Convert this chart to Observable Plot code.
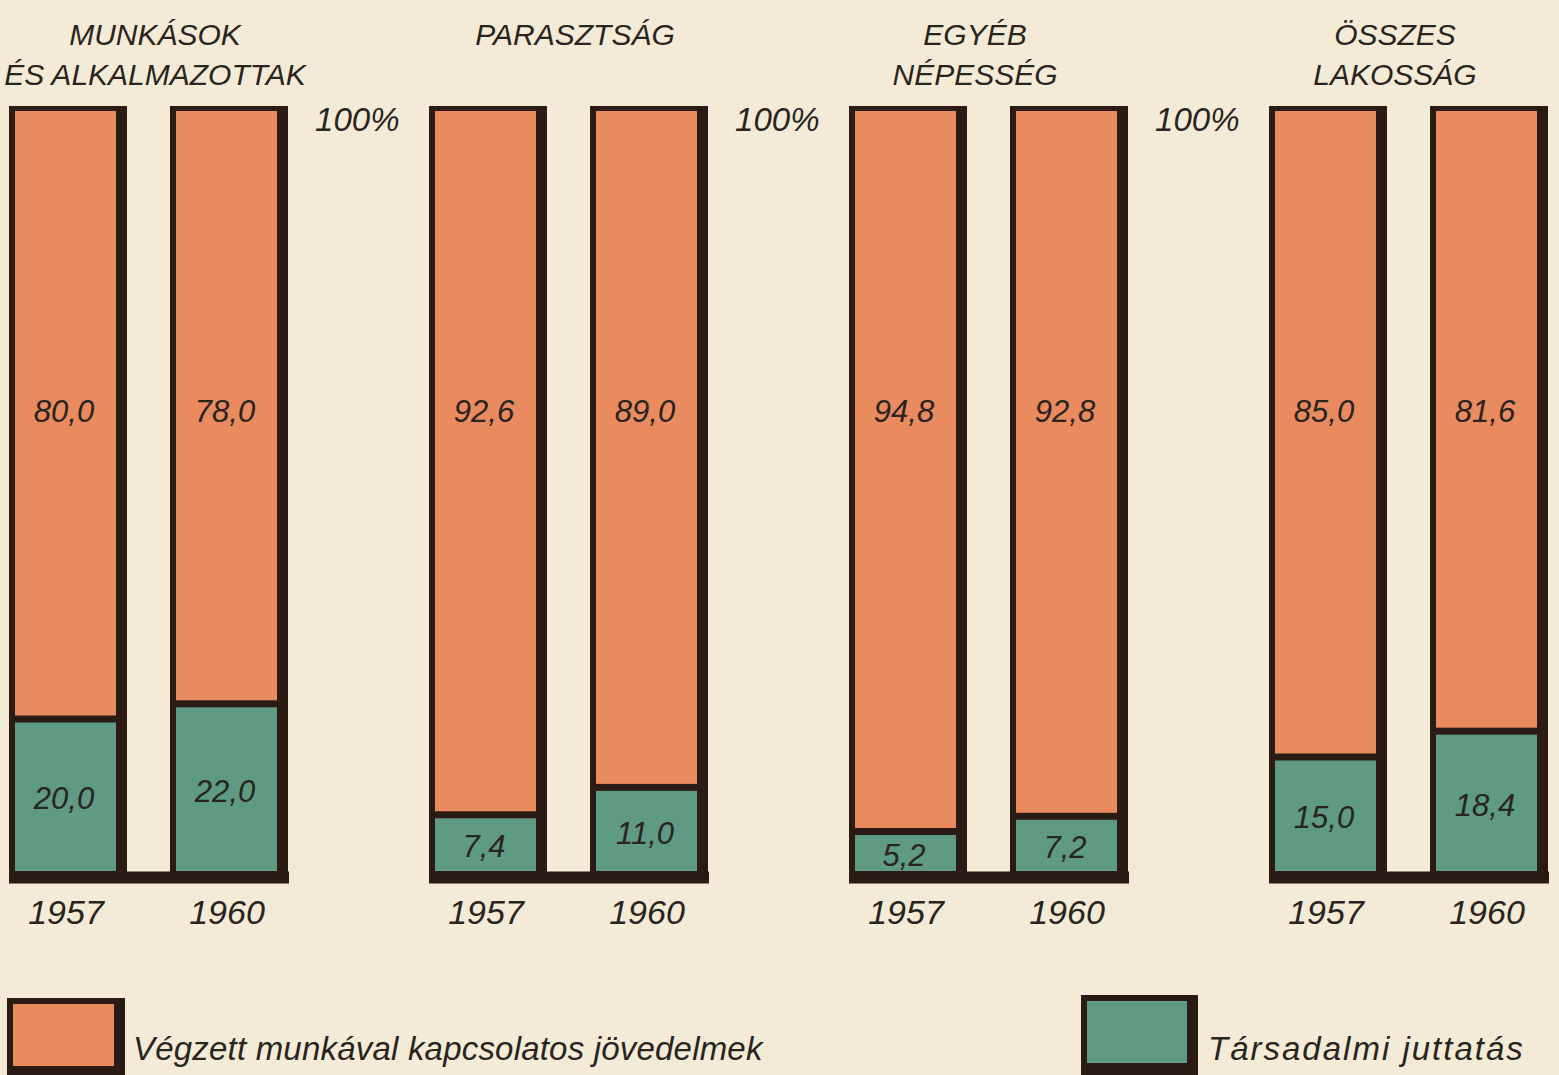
<!DOCTYPE html>
<html><head><meta charset="utf-8">
<script src="https://cdn.jsdelivr.net/npm/d3@7"></script>
<script src="https://cdn.jsdelivr.net/npm/@observablehq/plot@0.6"></script>
<style>
body{margin:0;background:#f3ebd5;width:1559px;height:1075px;overflow:hidden;font-family:"Liberation Sans",Arial,sans-serif;font-style:italic;color:#2a241f}
#chart svg{display:block;background:transparent}
#legend{position:relative;height:115px}
.box{position:absolute;box-sizing:border-box;border:solid #2a1c15;border-width:6px 11px 12px 6px}
.lt{position:absolute;font-size:33px;line-height:33px;white-space:nowrap}
</style></head>
<body>
<div id="chart"></div>
<div id="legend"></div>
<script>
const groups = ["MUNKÁSOK\nÉS ALKALMAZOTTAK", "PARASZTSÁG", "EGYÉB\nNÉPESSÉG", "ÖSSZES\nLAKOSSÁG"];
const years = ["1957", "1960"];
const workIncome = [80.0, 78.0, 92.6, 89.0, 94.8, 92.8, 85.0, 81.6];
const socialBenefit = [20.0, 22.0, 7.4, 11.0, 5.2, 7.2, 15.0, 18.4];
const seriesNames = ["Végzett munkával kapcsolatos jövedelmek", "Társadalmi juttatás"];
const topLabel = "100%";

const ORANGE = "#e98a5f", TEAL = "#5f9a83", DARK = "#2a1c15", INK = "#2a241f";
const rows = [];
groups.forEach((g, i) => years.forEach((y, j) => {
  rows.push({group: g, year: y, work: workIncome[i * 2 + j], social: socialBenefit[i * 2 + j]});
}));
const fmt = v => d3.format(".1f")(v).replace(".", ",");
const font = '"Liberation Sans", Arial, sans-serif';
const titleOpts = {fx: d => d, text: d => d, frameAnchor: "top", lineAnchor: "top", dy: -95, fontSize: 30, lineHeight: 1.33, fill: INK};

const plot = Plot.plot({
  width: 1559, height: 960,
  marginLeft: 13, marginRight: 20, marginTop: 111, marginBottom: 89,
  style: {fontFamily: font, fontStyle: "italic", background: "transparent", color: INK},
  fx: {domain: groups, paddingInner: 0.375, paddingOuter: 0, axis: null, label: null},
  x: {domain: years, paddingInner: 0.37, paddingOuter: 0, label: null, axis: null},
  y: {domain: [0, 100], axis: null},
  marks: [
    Plot.barY(rows, {fx: "group", x: "year", y1: 0, y2: 100, fill: DARK,
      insetLeft: -6, insetRight: -11, insetTop: -5, insetBottom: -12}),
    Plot.ruleY(groups, {fx: d => d, y: () => 0, stroke: DARK, strokeWidth: 12, dy: 6, insetLeft: -6, insetRight: -11}),
    Plot.barY(rows, {fx: "group", x: "year", y1: 0, y2: "social", fill: TEAL, insetTop: 3.5}),
    Plot.barY(rows, {fx: "group", x: "year", y1: "social", y2: 100, fill: ORANGE, insetBottom: 3.5}),
    Plot.text(rows, {fx: "group", x: "year", y: () => 60.5, dx: -2, text: d => fmt(d.work), fontSize: 31, fill: INK}),
    Plot.text(rows, {fx: "group", x: "year", y: d => d.social / 2, dy: 4, dx: -2, text: d => fmt(d.social), fontSize: 31, fill: INK}),
    Plot.axisX({tickSize: 0, tickPadding: 28, fontSize: 34, label: null, fill: INK}),
    Plot.text(groups.slice(0, 2), {...titleOpts, dx: 8}),
    Plot.text(groups.slice(2), {...titleOpts, dx: -12}),
    Plot.text(groups.slice(1), {fx: d => d, text: () => topLabel, frameAnchor: "top-left", textAnchor: "end", lineAnchor: "middle", dx: -36, dy: 9, fontSize: 33, fill: INK})
  ]
});
document.getElementById("chart").appendChild(plot);

const legend = document.getElementById("legend");
const items = [
  {color: ORANGE, box: [7, 38, 118, 80], text: [133, 72], spacing: "0.2px"},
  {color: TEAL, box: [1081, 35, 117, 80], text: [1208, 72], spacing: "2px"}
];
items.forEach((it, i) => {
  const b = document.createElement("div");
  b.className = "box";
  Object.assign(b.style, {left: it.box[0] + "px", top: it.box[1] + "px", width: it.box[2] + "px", height: it.box[3] + "px", background: it.color});
  legend.appendChild(b);
  const t = document.createElement("div");
  t.className = "lt";
  t.textContent = seriesNames[i];
  Object.assign(t.style, {left: it.text[0] + "px", top: it.text[1] + "px", letterSpacing: it.spacing});
  legend.appendChild(t);
});
</script>
</body></html>
